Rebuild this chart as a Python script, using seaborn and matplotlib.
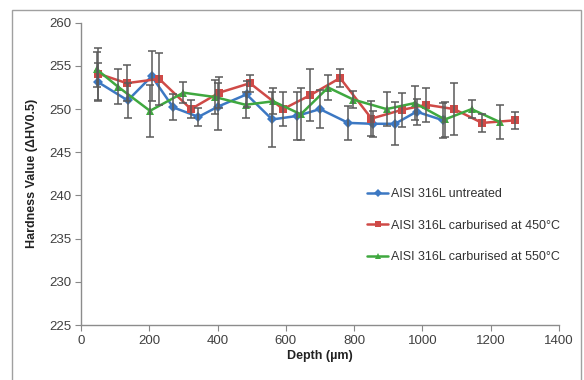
import numpy as np
import pandas as pd
import matplotlib
matplotlib.use("Agg")
import matplotlib.pyplot as plt
import seaborn as sns

# depth (um), hardness and error bar half-widths
depth_untreated = [51, 137, 207, 270, 344, 402, 485, 560, 632, 700, 783, 855, 920, 983, 1061]
hv_untreated = [253.1, 251.0, 253.8, 250.2, 249.1, 250.3, 251.7, 248.8, 249.2, 250.0, 248.4, 248.3, 248.3, 249.7, 248.7]
err_untreated = [2.2, 2.0, 2.9, 1.5, 1.0, 2.7, 1.5, 3.2, 2.8, 2.2, 2.0, 1.5, 2.5, 1.5, 2.0]

depth_450 = [51, 134, 229, 322, 405, 495, 592, 671, 759, 851, 939, 1012, 1093, 1175, 1271]
hv_450 = [254.1, 253.0, 253.5, 250.0, 251.9, 253.0, 250.0, 251.6, 253.6, 248.9, 249.9, 250.5, 250.0, 248.4, 248.7]
err_450 = [3.0, 2.1, 3.0, 1.0, 1.8, 1.0, 2.0, 3.0, 1.0, 2.0, 2.0, 2.0, 3.0, 1.0, 1.0]

depth_550 = [46, 108, 202, 300, 392, 482, 563, 644, 724, 798, 895, 978, 1066, 1144, 1227]
hv_550 = [254.6, 252.6, 249.8, 251.9, 251.4, 250.5, 250.9, 249.4, 252.5, 251.1, 250.0, 250.7, 248.8, 250.0, 248.5]
err_550 = [2.0, 2.0, 3.0, 1.2, 2.0, 1.5, 1.5, 3.0, 1.5, 1.0, 2.0, 2.0, 2.0, 1.0, 2.0]

labels = ["AISI 316L untreated", "AISI 316L carburised at 450°C", "AISI 316L carburised at 550°C"]
colors = ["#3c78c3", "#cf4a47", "#3fa83f"]
markers = ["D", "s", "^"]

df = pd.concat([
    pd.DataFrame({"depth": depth_untreated, "hv": hv_untreated, "err": err_untreated, "series": labels[0]}),
    pd.DataFrame({"depth": depth_450, "hv": hv_450, "err": err_450, "series": labels[1]}),
    pd.DataFrame({"depth": depth_550, "hv": hv_550, "err": err_550, "series": labels[2]}),
])

sns.set_style("white")
plt.rcParams['font.family'] = ['Liberation Sans', 'DejaVu Sans']

fig = plt.figure(figsize=(5.84, 3.8), dpi=100)
ax = fig.add_axes([0.1387, 0.1447, 0.8183, 0.7955])

for lab, col in zip(labels, colors):
    d = df[df.series == lab]
    ax.errorbar(d.depth, d.hv, yerr=d.err, fmt="none", ecolor="#5a5a5a",
                elinewidth=1.1, capsize=3, capthick=1.1, zorder=3)

sns.lineplot(data=df, x="depth", y="hv", hue="series", style="series",
             palette=colors, markers=markers, dashes=False, sort=False,
             estimator=None, linewidth=1.8, markersize=5.5, markeredgewidth=0,
             ax=ax, zorder=2)

ax.set_xlim(0, 1400)
ax.set_ylim(225, 260)
ax.set_xticks(np.arange(0, 1401, 200))
ax.set_yticks(np.arange(225, 261, 5))
ax.tick_params(axis="both", direction="out", length=4, width=0.8, color="#888888",
               labelsize=9.5, labelcolor="#404040", pad=3, bottom=True, left=True)
for s in ["top", "right"]:
    ax.spines[s].set_visible(False)
for s in ["left", "bottom"]:
    ax.spines[s].set_color("#8c8c8c")
    ax.spines[s].set_linewidth(1.0)

ax.set_xlabel("Depth (µm)", fontsize=9, fontweight="bold", color="#222222", labelpad=2)
ax.set_ylabel("Hardness Value (ΔHV0.5)", fontsize=9, fontweight="bold", color="#222222", labelpad=8)

leg = ax.legend(loc="upper left", bbox_to_anchor=(0.575, 0.49), frameon=False,
                fontsize=9, labelspacing=1.55, handlelength=1.7, handletextpad=0.2,
                markerscale=0.7)
for t in leg.get_texts():
    t.set_color("#333333")

# chart-area border (open at the bottom edge of the image)
fig.patches.append(plt.Rectangle((12 / 584, -5 / 380), 569 / 584, 375.5 / 380,
                                 transform=fig.transFigure, fill=False,
                                 edgecolor="#a0a0a0", linewidth=1.0))

fig.savefig("out.png", dpi=100)
